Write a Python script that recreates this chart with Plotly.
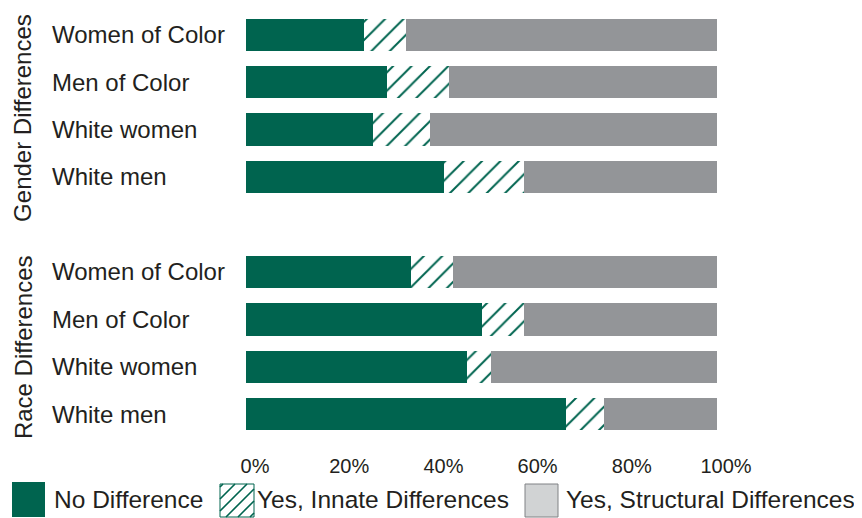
import plotly.graph_objects as go

# ---------------- data ----------------
groups = ["Gender Differences", "Race Differences"]
categories = ["Women of Color", "Men of Color", "White women", "White men"]

gender_no_diff = [25, 30, 27, 42]
gender_innate = [9, 13, 12, 17]
gender_structural = [66, 57, 61, 41]

race_no_diff = [35, 50, 47, 68]
race_innate = [9, 9, 5, 8]
race_structural = [56, 41, 48, 24]

series_names = ["No Difference", "Yes, Innate Differences", "Yes, Structural Differences"]
tick_vals = [0, 20, 40, 60, 80, 100]
tick_text = ["0%", "20%", "40%", "60%", "80%", "100%"]

# ---------------- styling ----------------
GREEN = "#00644f"
GRAY = "#939598"
LIGHT_GRAY = "#d1d3d4"
TEXT = "#231f20"
FONT = "Liberation Sans"

# the page body has an 8px default margin: figure is placed at (8, 8) on screen
OFF = 8
SCREEN_W, SCREEN_H = 862, 518
W, H = SCREEN_W - OFF, SCREEN_H - OFF


def fx(px):
    return px - OFF


def fy(py):
    return py - OFF


n = len(categories)
gap = 1  # blank slot between groups
y_pos = list(range(n)) + [n + gap + i for i in range(n)]
y_labels = categories + categories

no_diff = gender_no_diff + race_no_diff
innate = gender_innate + race_innate
structural = gender_structural + race_structural

BAR_W = 0.68
fig = go.Figure()
fig.add_trace(go.Bar(
    y=y_pos, x=no_diff, orientation="h", name=series_names[0],
    marker=dict(color=GREEN, line=dict(width=0)), width=BAR_W, showlegend=False,
))
fig.add_trace(go.Bar(
    y=y_pos, x=innate, orientation="h", name=series_names[1],
    marker=dict(color="white", line=dict(width=0),
                pattern=dict(shape="/", fgcolor=GREEN, bgcolor="white", fgopacity=1,
                             fillmode="replace", size=13, solidity=0.15)),
    width=BAR_W, showlegend=False,
))
fig.add_trace(go.Bar(
    y=y_pos, x=structural, orientation="h", name=series_names[2],
    marker=dict(color=GRAY, line=dict(width=0)), width=BAR_W, showlegend=False,
))

# screen-space layout (from reference)
axis_left_px = 48          # labels start ~5px right of this
plot_left_px, plot_right_px = 246, 717
plot_top_px, plot_bottom_px = 11, 438

ml = fx(axis_left_px)
mr = SCREEN_W - plot_right_px
mt = fy(plot_top_px)
mb = H - fy(plot_bottom_px)
plot_w = W - ml - mr

fig.update_layout(
    width=W, height=H,
    barmode="stack",
    margin=dict(l=ml, r=mr, t=mt, b=mb, autoexpand=False),
    paper_bgcolor="white", plot_bgcolor="white",
    font=dict(family=FONT, color=TEXT, size=24),
    xaxis=dict(
        domain=[(fx(plot_left_px) - ml) / plot_w, 1],
        range=[0, 100], tickvals=tick_vals, ticktext=tick_text,
        showgrid=False, zeroline=False, showline=False, ticks="",
        tickfont=dict(size=20, color=TEXT, family=FONT),
        ticklabelshift=9, ticklabelstandoff=14, automargin=False,
        fixedrange=True,
    ),
    yaxis=dict(
        anchor="free", position=0, side="left",
        ticklabelposition="inside",
        range=[len(y_pos) + gap - 0.5, -0.5],
        tickvals=y_pos, ticktext=y_labels,
        showgrid=False, zeroline=False, showline=False, ticks="",
        tickfont=dict(size=24, color=TEXT, family=FONT),
        automargin=False, fixedrange=True,
    ),
)

# group labels (rotated)
group_centers = [(n - 1) / 2, n + gap + (n - 1) / 2]
group_shifts = [-12, -4]
for g, yc, ys in zip(groups, group_centers, group_shifts):
    fig.add_annotation(
        text=g, xref="paper", yref="y", x=0, y=yc, xshift=fx(23) - ml,
        yshift=ys, textangle=-90, showarrow=False,
        font=dict(size=24, color=TEXT, family=FONT),
        xanchor="center", yanchor="middle",
    )

# ---------------- custom legend ----------------
paper_bottom_fig = fy(plot_bottom_px)  # figure pixel row of paper y=0


def px_rect(x0, x1, y0, y1, **kw):
    # screen pixel coords -> pixel offsets from paper (0,0), y up
    fig.add_shape(
        type="rect", xref="paper", yref="paper", xsizemode="pixel", ysizemode="pixel",
        xanchor=0, yanchor=0,
        x0=fx(x0) - ml, x1=fx(x1) - ml,
        y0=paper_bottom_fig - fy(y1), y1=paper_bottom_fig - fy(y0), **kw,
    )


def legend_text(txt, x_px, y_px):
    fig.add_annotation(
        text=txt, xref="paper", yref="paper", x=0, y=0,
        xshift=fx(x_px) - ml, yshift=paper_bottom_fig - fy(y_px),
        xanchor="left", yanchor="middle", showarrow=False,
        font=dict(size=24.5, color=TEXT, family=FONT),
    )


leg_y0, leg_y1 = 482, 517
# No Difference swatch
px_rect(12, 45, leg_y0, leg_y1, fillcolor=GREEN, line=dict(width=0))
legend_text(series_names[0], 52, 499)

# Innate (hatched) swatch
hx0, hx1 = 220, 254
hy0, hy1 = leg_y0 + 2, leg_y1
px_rect(hx0, hx1, hy0, hy1, fillcolor="white", line=dict(color=GREEN, width=1))
bx0, bx1 = fx(hx0) - ml, fx(hx1) - ml
by0, by1 = paper_bottom_fig - fy(hy1), paper_bottom_fig - fy(hy0)
segs = []
c = by0 - bx1 + 4
while c < by1 - bx0:
    xa = max(bx0, by0 - c)
    xb = min(bx1, by1 - c)
    if xb > xa:
        segs.append(f"M{xa:.1f},{xa + c:.1f} L{xb:.1f},{xb + c:.1f}")
    c += 12
fig.add_shape(
    type="path", xref="paper", yref="paper", xsizemode="pixel", ysizemode="pixel",
    xanchor=0, yanchor=0, path=" ".join(segs), line=dict(color=GREEN, width=1.6),
)
legend_text(series_names[1], 255, 499)

# Structural swatch
px_rect(525, 558, hy0, hy1, fillcolor=LIGHT_GRAY, line=dict(color="#808285", width=1))
legend_text(series_names[2], 564, 499)

fig.write_html("out.html")
